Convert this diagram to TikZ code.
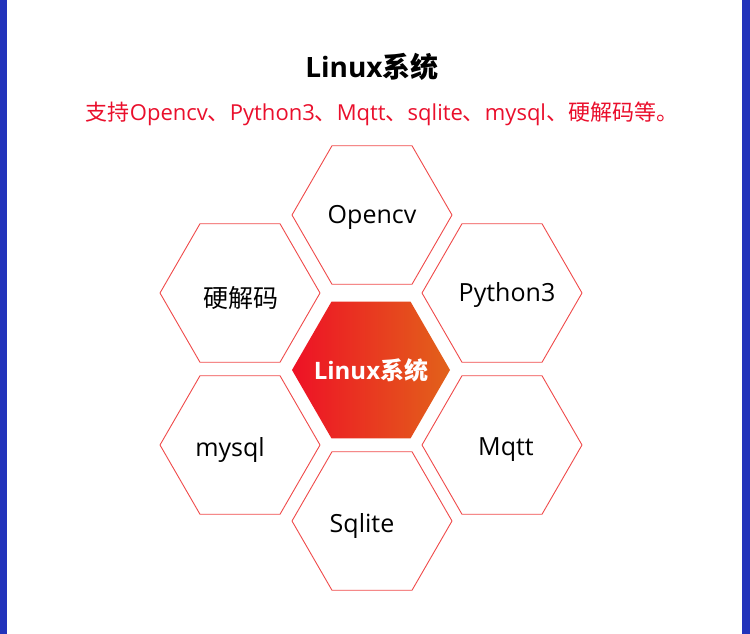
\documentclass[tikz,border=0pt]{standalone}
\usepackage{fontspec}
\setmainfont{Open Sans}
\newfontfamily\cjk{Noto Sans CJK SC}
\usetikzlibrary{shapes.geometric}
\definecolor{frameblue}{HTML}{2233BB}
\definecolor{hexred}{HTML}{F04A4A}
\definecolor{subred}{HTML}{EA0F2C}
\definecolor{gradleft}{HTML}{EE1126}
\definecolor{gradright}{HTML}{E2621A}
\begin{document}
\begin{tikzpicture}[x=1pt, y=-1pt, line join=round,
	hexa/.style={regular polygon, regular polygon sides=6, minimum size=160pt, inner sep=0pt, draw=hexred, line width=0.9pt},
	word/.style={font=\fontsize{25}{29}\selectfont, text=black}]
	% frame
	\useasboundingbox (0,0) rectangle (750,634);
	\fill[white] (0,0) rectangle (750,634);
	\fill[frameblue] (0,0) rectangle (7,634);
	\fill[frameblue] (742,0) rectangle (750,634);
	% heading
	\node[font=\fontsize{28}{32}\selectfont\bfseries] (title) at (372,67) {Linux{\cjk 系统}};
	\node[font=\fontsize{22}{26}\selectfont, text=subred] (subtitle) at (382,114) {{\cjk 支持}Opencv{\cjk 、}Python3{\cjk 、}Mqtt{\cjk 、}sqlite{\cjk 、}mysql{\cjk 、硬解码等。}};
	% honeycomb
	\node[hexa] (hexopencv) at (372,215) {};
	\node[hexa] (hexpython) at (502,293) {};
	\node[hexa] (hexdecode) at (240,293) {};
	\node[hexa] (hexmysql) at (240,445) {};
	\node[hexa] (hexmqtt) at (502,445) {};
	\node[hexa] (hexsqlite) at (372,521) {};
	\node[hexa, draw=none, minimum size=158pt, left color=gradleft, right color=gradright] (hexcore) at (371,370) {};
	% labels
	\node[word] (opencv) at (372,217) {Opencv};
	\node[word] (python) at (507,295) {Python3};
	\node[word] (decode) at (241,298) {\cjk 硬解码};
	\node[word] (mysql) at (230,450) {mysql};
	\node[word] (mqtt) at (506,450) {Mqtt};
	\node[word] (sqlite) at (362,526) {Sqlite};
	\node[font=\fontsize{24}{28}\selectfont\bfseries, text=white] (core) at (371,370) {Linux{\cjk 系统}};
\end{tikzpicture}
\end{document}
